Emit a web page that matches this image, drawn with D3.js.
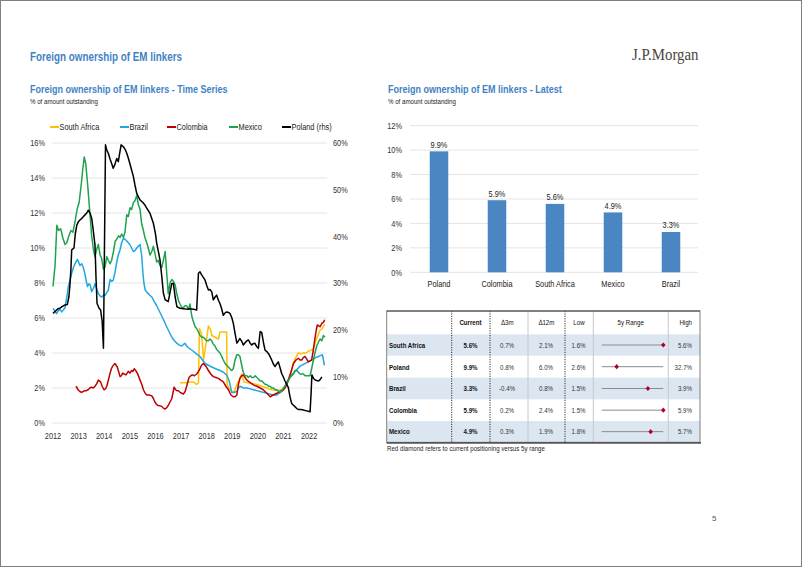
<!DOCTYPE html>
<html><head><meta charset="utf-8">
<script src="https://cdn.jsdelivr.net/npm/d3@7"></script>
<style>
html,body{margin:0;padding:0;background:#fff;}
svg{display:block;}
text{font-family:"Liberation Sans Narrow","Arial Narrow","Liberation Sans",Arial,sans-serif;}
</style></head><body>
<svg id="c" width="802" height="567"></svg>
<script>
// ---------------- DATA ----------------
const yearTicks = [2012,2013,2014,2015,2016,2017,2018,2019,2020,2021,2022];
const leftTicks = [0,2,4,6,8,10,12,14,16];
const rightTicks = [0,10,20,30,40,50,60];
const seriesNames = ["South Africa","Brazil","Colombia","Mexico","Poland (rhs)"];

const southAfrica = [[2016.96,2.3],[2017.1,2.3],[2017.22,2.3],[2017.35,2.35],[2017.48,2.35],[2017.61,2.2],[2017.68,2.3],[2017.72,5.4],[2017.8,5.1],[2017.88,3.6],[2017.97,4.5],[2018.07,5.55],[2018.16,5.3],[2018.2,5.0],[2018.33,4.9],[2018.46,4.8],[2018.52,5.2],[2018.65,5.2],[2018.78,5.2],[2018.8,2.2],[2018.9,1.9],[2018.98,1.8],[2019.08,1.8],[2019.18,2.2],[2019.28,2.5],[2019.37,2.8],[2019.45,2.35],[2019.6,2.3],[2019.76,2.25],[2019.96,2.2],[2020.15,2.1],[2020.35,2.0],[2020.55,1.9],[2020.74,1.85],[2020.9,1.9],[2021.0,2.0],[2021.1,2.2],[2021.19,2.45],[2021.3,2.9],[2021.39,3.45],[2021.5,3.8],[2021.58,4.0],[2021.68,3.95],[2021.78,4.0],[2021.88,4.0],[2021.97,4.1],[2022.07,4.15],[2022.17,4.25],[2022.3,4.85],[2022.43,5.3],[2022.52,5.4],[2022.6,5.65]];

const brazil = [[2012.0,6.55],[2012.07,6.4],[2012.14,6.25],[2012.2,6.4],[2012.27,6.5],[2012.34,6.35],[2012.4,6.45],[2012.47,6.6],[2012.54,7.2],[2012.6,7.8],[2012.67,8.2],[2012.73,8.55],[2012.8,8.9],[2012.86,9.1],[2012.95,9.35],[2013.0,9.2],[2013.05,9.0],[2013.12,9.1],[2013.18,8.9],[2013.25,8.5],[2013.3,8.1],[2013.35,7.8],[2013.4,7.95],[2013.45,7.9],[2013.51,7.5],[2013.58,7.7],[2013.64,7.95],[2013.7,7.7],[2013.77,7.4],[2013.84,7.25],[2013.9,7.2],[2013.97,7.3],[2014.03,7.3],[2014.1,7.45],[2014.16,7.6],[2014.23,8.2],[2014.29,8.1],[2014.35,8.15],[2014.42,8.6],[2014.49,9.2],[2014.55,9.6],[2014.62,9.9],[2014.68,10.3],[2014.75,10.55],[2014.81,10.5],[2014.88,10.4],[2014.94,10.3],[2015.0,10.2],[2015.07,10.0],[2015.14,9.8],[2015.2,9.85],[2015.27,10.0],[2015.33,10.1],[2015.4,10.2],[2015.46,9.6],[2015.51,8.6],[2015.55,8.0],[2015.6,7.6],[2015.68,7.45],[2015.78,7.3],[2015.86,7.2],[2015.95,6.95],[2016.05,6.7],[2016.15,6.4],[2016.25,6.1],[2016.35,5.8],[2016.44,5.5],[2016.54,5.2],[2016.64,4.9],[2016.74,4.7],[2016.84,4.55],[2016.94,4.45],[2017.03,4.4],[2017.1,4.5],[2017.16,4.55],[2017.22,4.4],[2017.29,4.3],[2017.38,4.2],[2017.48,4.1],[2017.6,3.95],[2017.74,3.8],[2017.84,3.6],[2017.94,3.4],[2018.07,3.3],[2018.2,3.2],[2018.35,3.1],[2018.52,3.0],[2018.65,2.9],[2018.78,2.75],[2018.88,2.4],[2018.98,1.75],[2019.08,1.75],[2019.18,1.8],[2019.24,2.0],[2019.3,2.1],[2019.45,2.0],[2019.57,2.0],[2019.7,1.95],[2019.83,1.9],[2019.96,1.85],[2020.09,1.8],[2020.22,1.75],[2020.35,1.7],[2020.48,1.65],[2020.6,1.6],[2020.74,1.6],[2020.84,1.7],[2020.93,1.8],[2021.03,2.0],[2021.13,2.35],[2021.26,2.65],[2021.39,2.85],[2021.52,3.05],[2021.65,3.25],[2021.78,3.35],[2021.91,3.45],[2022.04,3.55],[2022.17,3.65],[2022.27,3.75],[2022.36,3.8],[2022.45,3.85],[2022.52,3.9],[2022.6,3.3]];

const colombia = [[2012.9,2.1],[2012.98,1.9],[2013.05,1.8],[2013.11,1.75],[2013.18,1.8],[2013.24,1.85],[2013.3,1.85],[2013.37,1.9],[2013.44,2.0],[2013.5,2.05],[2013.57,2.0],[2013.64,2.1],[2013.71,2.25],[2013.77,2.45],[2013.86,2.35],[2013.92,2.1],[2013.99,1.9],[2014.05,1.95],[2014.1,2.1],[2014.17,2.5],[2014.23,2.85],[2014.28,3.1],[2014.33,3.25],[2014.42,3.4],[2014.51,3.2],[2014.57,2.9],[2014.62,2.65],[2014.67,2.7],[2014.72,2.85],[2014.78,2.8],[2014.85,2.75],[2014.94,2.95],[2015.0,2.85],[2015.07,3.0],[2015.12,2.95],[2015.17,3.1],[2015.23,3.0],[2015.29,2.85],[2015.35,2.65],[2015.4,2.45],[2015.47,2.2],[2015.53,1.9],[2015.6,1.7],[2015.66,1.6],[2015.76,1.6],[2015.86,1.55],[2015.92,1.4],[2015.98,1.2],[2016.05,1.05],[2016.11,1.0],[2016.18,0.98],[2016.25,0.95],[2016.31,0.85],[2016.38,0.8],[2016.44,0.88],[2016.5,1.0],[2016.57,1.2],[2016.64,1.4],[2016.73,2.05],[2016.79,1.9],[2016.84,1.85],[2016.9,1.85],[2016.96,1.75],[2017.03,1.7],[2017.09,1.65],[2017.16,1.8],[2017.22,2.1],[2017.31,2.6],[2017.38,2.7],[2017.44,2.75],[2017.52,2.7],[2017.61,2.8],[2017.68,2.95],[2017.74,3.1],[2017.8,3.3],[2017.87,3.4],[2017.97,3.25],[2018.07,3.0],[2018.16,2.8],[2018.26,2.65],[2018.36,2.6],[2018.46,2.55],[2018.55,2.45],[2018.65,2.35],[2018.75,2.1],[2018.85,1.9],[2018.95,1.6],[2019.04,1.5],[2019.11,1.5],[2019.18,1.6],[2019.24,2.2],[2019.3,2.55],[2019.37,2.7],[2019.43,2.75],[2019.5,2.6],[2019.57,2.45],[2019.66,2.35],[2019.76,2.25],[2019.86,2.15],[2019.96,2.1],[2020.09,2.0],[2020.21,1.9],[2020.35,1.7],[2020.48,1.5],[2020.6,1.6],[2020.74,1.7],[2020.87,1.8],[2021.0,1.9],[2021.1,2.1],[2021.19,2.45],[2021.29,2.9],[2021.39,3.4],[2021.49,3.6],[2021.58,3.7],[2021.65,3.6],[2021.71,3.6],[2021.78,3.75],[2021.84,3.8],[2021.91,3.65],[2021.97,3.5],[2022.04,3.55],[2022.1,3.6],[2022.17,4.2],[2022.23,4.85],[2022.28,5.3],[2022.32,5.6],[2022.38,5.55],[2022.43,5.5],[2022.5,5.7],[2022.56,5.75],[2022.61,5.9]];

const mexico = [[2012.0,7.8],[2012.08,9.0],[2012.15,11.3],[2012.22,11.0],[2012.3,11.1],[2012.38,10.6],[2012.47,10.2],[2012.54,10.3],[2012.62,10.7],[2012.7,11.0],[2012.78,10.9],[2012.86,11.5],[2012.94,12.2],[2013.02,12.6],[2013.1,13.6],[2013.17,14.6],[2013.22,15.2],[2013.28,14.8],[2013.36,13.5],[2013.44,12.0],[2013.51,10.7],[2013.58,9.9],[2013.64,9.5],[2013.7,9.9],[2013.77,10.2],[2013.84,9.6],[2013.9,9.4],[2013.97,8.8],[2014.03,8.9],[2014.1,9.5],[2014.16,9.3],[2014.23,9.1],[2014.29,9.3],[2014.36,9.8],[2014.43,10.4],[2014.49,10.5],[2014.56,10.7],[2014.62,10.6],[2014.68,10.8],[2014.75,10.6],[2014.81,10.9],[2014.88,11.9],[2014.94,11.8],[2015.01,12.3],[2015.07,12.2],[2015.14,12.6],[2015.2,12.7],[2015.27,13.0],[2015.33,12.5],[2015.4,12.2],[2015.46,11.4],[2015.53,11.0],[2015.59,10.6],[2015.66,10.3],[2015.72,10.0],[2015.79,9.6],[2015.86,9.8],[2015.92,10.1],[2015.98,9.7],[2016.05,9.2],[2016.11,9.3],[2016.18,9.0],[2016.25,8.9],[2016.31,9.3],[2016.38,9.8],[2016.44,8.6],[2016.5,7.4],[2016.57,8.0],[2016.64,8.2],[2016.7,8.1],[2016.77,7.9],[2016.83,7.4],[2016.9,7.0],[2016.96,6.8],[2017.03,6.6],[2017.09,6.6],[2017.16,6.7],[2017.22,6.7],[2017.29,6.5],[2017.35,6.8],[2017.42,6.1],[2017.48,5.8],[2017.55,5.5],[2017.61,5.4],[2017.68,5.2],[2017.74,5.0],[2017.81,4.9],[2017.87,4.9],[2017.94,4.8],[2018.0,4.7],[2018.07,4.7],[2018.13,4.8],[2018.2,4.7],[2018.26,4.5],[2018.33,4.4],[2018.39,4.2],[2018.46,4.1],[2018.52,4.0],[2018.59,3.8],[2018.65,3.6],[2018.72,3.4],[2018.78,3.3],[2018.85,3.2],[2018.91,3.1],[2018.98,3.0],[2019.04,3.1],[2019.11,3.6],[2019.18,3.9],[2019.24,3.9],[2019.3,3.8],[2019.37,3.3],[2019.43,2.9],[2019.5,2.7],[2019.57,2.7],[2019.63,2.6],[2019.7,2.7],[2019.76,2.6],[2019.83,2.6],[2019.9,2.7],[2019.96,2.6],[2020.03,2.5],[2020.09,2.4],[2020.16,2.4],[2020.22,2.3],[2020.29,2.2],[2020.35,2.2],[2020.42,2.1],[2020.48,2.1],[2020.55,2.0],[2020.61,2.0],[2020.68,1.9],[2020.74,1.9],[2020.81,1.8],[2020.87,1.8],[2020.93,1.8],[2021.0,2.0],[2021.06,2.1],[2021.13,2.3],[2021.19,2.4],[2021.26,2.6],[2021.32,2.7],[2021.39,2.8],[2021.45,3.0],[2021.52,3.0],[2021.58,2.9],[2021.65,2.8],[2021.71,2.8],[2021.78,2.8],[2021.84,2.7],[2021.91,2.7],[2021.97,2.7],[2022.04,2.7],[2022.1,3.1],[2022.17,3.6],[2022.23,4.0],[2022.3,4.4],[2022.36,4.6],[2022.43,4.8],[2022.5,4.7],[2022.56,5.0],[2022.62,4.9]];

const poland = [[2012.0,23.5],[2012.1,24.0],[2012.2,24.5],[2012.27,24.6],[2012.37,25.0],[2012.47,25.3],[2012.56,25.4],[2012.62,27.0],[2012.66,29.5],[2012.7,33.0],[2012.73,37.1],[2012.82,37.5],[2012.87,40.5],[2012.93,42.4],[2013.0,43.2],[2013.05,43.5],[2013.12,43.8],[2013.18,44.2],[2013.25,44.6],[2013.32,45.0],[2013.38,45.6],[2013.45,44.9],[2013.51,43.9],[2013.57,41.4],[2013.64,38.1],[2013.68,31.0],[2013.72,25.6],[2013.8,24.6],[2013.86,24.2],[2013.92,21.8],[2013.97,16.0],[2014.05,59.6],[2014.1,58.5],[2014.16,57.8],[2014.23,56.5],[2014.29,55.6],[2014.35,54.6],[2014.41,55.3],[2014.49,56.7],[2014.55,56.0],[2014.61,58.0],[2014.66,59.6],[2014.75,59.2],[2014.82,58.6],[2014.88,57.8],[2014.94,56.8],[2015.0,55.6],[2015.07,54.2],[2015.14,52.8],[2015.2,51.0],[2015.27,49.2],[2015.34,48.4],[2015.4,47.8],[2015.5,47.3],[2015.59,46.7],[2015.69,45.8],[2015.79,44.9],[2015.92,42.8],[2016.0,40.6],[2016.05,38.5],[2016.12,36.6],[2016.18,34.9],[2016.25,31.3],[2016.31,27.8],[2016.38,26.4],[2016.45,26.2],[2016.5,26.0],[2016.57,28.0],[2016.64,29.9],[2016.7,29.9],[2016.77,27.0],[2016.84,24.9],[2016.96,24.6],[2017.1,24.5],[2017.22,24.4],[2017.35,24.5],[2017.48,24.4],[2017.61,24.2],[2017.68,32.1],[2017.74,32.4],[2017.81,31.7],[2017.87,31.2],[2017.94,30.6],[2018.0,29.5],[2018.07,28.5],[2018.13,28.6],[2018.2,28.1],[2018.26,26.4],[2018.33,27.0],[2018.39,27.4],[2018.46,26.3],[2018.52,25.6],[2018.58,24.6],[2018.65,23.1],[2018.72,23.6],[2018.78,23.8],[2018.85,23.7],[2018.91,23.5],[2018.98,22.6],[2019.04,21.4],[2019.11,19.2],[2019.18,17.1],[2019.24,17.6],[2019.3,18.1],[2019.37,17.5],[2019.43,16.7],[2019.5,17.2],[2019.57,17.6],[2019.63,17.8],[2019.7,17.1],[2019.76,16.7],[2019.82,17.0],[2019.88,17.1],[2019.95,16.4],[2020.02,16.0],[2020.09,19.6],[2020.15,19.4],[2020.22,17.2],[2020.28,15.6],[2020.35,15.3],[2020.41,14.9],[2020.48,14.2],[2020.54,13.5],[2020.6,12.7],[2020.67,12.1],[2020.73,12.6],[2020.8,13.1],[2020.87,11.8],[2020.93,10.6],[2021.0,9.8],[2021.06,9.0],[2021.13,8.3],[2021.19,7.6],[2021.26,5.5],[2021.32,4.2],[2021.39,3.8],[2021.45,3.5],[2021.52,3.1],[2021.58,2.9],[2021.68,2.9],[2021.78,2.8],[2021.84,2.7],[2021.91,2.6],[2021.97,2.5],[2022.04,2.4],[2022.08,6.5],[2022.11,10.3],[2022.17,9.6],[2022.24,9.2],[2022.3,9.1],[2022.37,9.0],[2022.43,9.3],[2022.5,9.9]];

const barCategories = ["Poland","Colombia","South Africa","Mexico","Brazil"];
const barValues = [9.9,5.9,5.6,4.9,3.3];
const barTicks = [0,2,4,6,8,10,12];

const tableHeaders = ["","Current","\u22063m","\u220612m","Low","5y Range","High"];
const tableCountries = ["South Africa","Poland","Brazil","Colombia","Mexico"];
const tableCurrent = [5.6,9.9,3.3,5.9,4.9];
const tableD3m = [0.7,0.8,-0.4,0.2,0.3];
const tableD12m = [2.1,6.0,0.8,2.4,1.9];
const tableLow = [1.6,2.6,1.5,1.5,1.8];
const tableHigh = [5.6,32.7,3.9,5.9,5.7];

// ---------------- STYLE ----------------
const seriesColors = ["#FFC000","#1FA7E1","#C00000","#1DA34E","#000000"];
const titleBlue = "#3F82C4";
const barBlue = "#4A86C2";
const SX = 0.82;

const svg = d3.select("#c");
svg.append("rect").attr("x",0.5).attr("y",0.5).attr("width",801).attr("height",566)
  .attr("fill","#fff").attr("stroke","#7f7f7f").attr("stroke-width",1);

function T(g, x, y, s, o = {}) {
  const t = g.append("text")
    .attr("transform", `translate(${x},${y}) scale(${o.sx ?? SX},1)`)
    .attr("font-size", o.size || 9)
    .attr("fill", o.fill || "#333")
    .attr("text-anchor", o.anchor || "start")
    .attr("font-weight", o.weight || "normal")
    .text(s);
  if (o.family) t.style("font-family", o.family);
  return t;
}

// ---------------- HEADINGS ----------------
T(svg, 30, 61, "Foreign ownership of EM linkers", {size:12, weight:"bold", fill:titleBlue});
T(svg, 30, 93, "Foreign ownership of EM linkers - Time Series", {size:11, weight:"bold", fill:titleBlue});
T(svg, 30, 104, "% of amount outstanding", {size:7.5, fill:"#222"});
T(svg, 388, 93, "Foreign ownership of EM linkers - Latest", {size:11, weight:"bold", fill:titleBlue});
T(svg, 388, 104, "% of amount outstanding", {size:7.5, fill:"#222"});
T(svg, 632, 60, "J.P.Morgan", {size:16.5, sx:0.9, fill:"#4a4440", family:"'Liberation Serif','DejaVu Serif',serif"});
T(svg, 712, 521, "5", {size:8, fill:"#555", sx:1});

// ---------------- LEFT CHART ----------------
const x = d3.scaleLinear().domain([2012, 2022.7]).range([53, 327]);
const yL = d3.scaleLinear().domain([0, 16]).range([423, 143]);
const yR = d3.scaleLinear().domain([0, 60]).range([423, 143]);

const gl = svg.append("g");
gl.selectAll("line.grid").data(leftTicks).join("line")
  .attr("x1", 52).attr("x2", 327)
  .attr("y1", d => yL(d)).attr("y2", d => yL(d))
  .attr("stroke", "#e4e4e4").attr("stroke-width", 1);
leftTicks.forEach(t => T(gl, 45, yL(t) + 3.2, t + "%", {anchor:"end"}));
rightTicks.forEach(t => T(gl, 333, yR(t) + 3.2, t + "%"));
yearTicks.forEach(t => T(gl, x(t), 438.5, String(t), {anchor:"middle"}));

const lineL = d3.line().x(d => x(d[0])).y(d => yL(d[1]));
const lineR = d3.line().x(d => x(d[0])).y(d => yR(d[1]));
const allSeries = [southAfrica, brazil, colombia, mexico, poland];
allSeries.forEach((s, i) => {
  gl.append("path").datum(s)
    .attr("d", i === 4 ? lineR : lineL)
    .attr("fill", "none").attr("stroke", seriesColors[i])
    .attr("stroke-width", 1.5).attr("stroke-linejoin", "round");
});

// legend
const legX = [50, 120, 167, 229, 282];
seriesNames.forEach((n, i) => {
  gl.append("line").attr("x1", legX[i]).attr("x2", legX[i] + 9)
    .attr("y1", 127).attr("y2", 127).attr("stroke", seriesColors[i]).attr("stroke-width", 2);
  T(gl, legX[i] + 9.5, 130.2, n, {fill:"#222"});
});

// ---------------- BAR CHART ----------------
const gb = svg.append("g");
const xb = d3.scaleBand().domain(barCategories).range([410, 700]).paddingInner(0.68).paddingOuter(0.34);
const yb = d3.scaleLinear().domain([0, 12]).range([272.3, 125.7]);
gb.selectAll("line.grid").data(barTicks).join("line")
  .attr("x1", 410).attr("x2", 698)
  .attr("y1", d => yb(d)).attr("y2", d => yb(d))
  .attr("stroke", "#e4e4e4").attr("stroke-width", 1);
barTicks.forEach(t => T(gb, 402, yb(t) + 3.2, t + "%", {anchor:"end"}));
gb.selectAll("rect.bar").data(barValues).join("rect")
  .attr("x", (d, i) => xb(barCategories[i]))
  .attr("y", d => yb(d))
  .attr("width", xb.bandwidth())
  .attr("height", d => yb(0) - yb(d))
  .attr("fill", barBlue);
barValues.forEach((v, i) => {
  const cx = xb(barCategories[i]) + xb.bandwidth() / 2;
  T(gb, cx, yb(v) - 3.5, d3.format(".1f")(v) + "%", {anchor:"middle", fill:"#222"});
  T(gb, cx, 286.5, barCategories[i], {anchor:"middle", fill:"#222"});
});

// ---------------- TABLE ----------------
const gt = svg.append("g");
const colX = [386.7, 451.7, 490, 528, 565, 593.3, 668.3, 700];
const rowY = [311, 334.3, 355.7, 377.7, 399.3, 421, 442.3];
tableCountries.forEach((c, i) => {
  if (i % 2 === 0) {
    gt.append("rect").attr("x", colX[0]).attr("y", rowY[i + 1])
      .attr("width", colX[7] - colX[0]).attr("height", rowY[i + 2] - rowY[i + 1])
      .attr("fill", "#dce6f1");
  }
});
[1, 2, 3, 4, 5, 6].forEach(k => {
  const dark = (k === 1 || k === 2 || k === 4);
  gt.append("line").attr("x1", colX[k]).attr("x2", colX[k])
    .attr("y1", rowY[0]).attr("y2", rowY[6])
    .attr("stroke", dark ? "#333" : "#c8c8c8").attr("stroke-width", 1)
    .attr("stroke-dasharray", dark ? "1.2,1.2" : null);
});
gt.append("rect").attr("x", colX[0]).attr("y", rowY[0])
  .attr("width", colX[7] - colX[0]).attr("height", rowY[6] - rowY[0])
  .attr("fill", "none").attr("stroke", "#808080").attr("stroke-width", 1);
gt.append("line").attr("x1", colX[0]).attr("x2", colX[7]).attr("y1", rowY[0]).attr("y2", rowY[0])
  .attr("stroke", "#444").attr("stroke-width", 1.2);
gt.append("line").attr("x1", colX[0]).attr("x2", colX[7] + 1).attr("y1", rowY[6] + 0.5).attr("y2", rowY[6] + 0.5)
  .attr("stroke", "#555").attr("stroke-width", 1.8);

const f1 = v => d3.format(".1f")(v).replace("\u2212", "-") + "%";
const hdrX = [389, 470.5, 507.5, 546.5, 579, 630.7, 685.7];
const hy = (rowY[0] + rowY[1]) / 2 + 2.8;
tableHeaders.forEach((h, k) => {
  if (!h) return;
  T(gt, hdrX[k], hy, h, {size:7.5, anchor:"middle", weight: k === 1 ? "bold" : "normal", fill:"#111"});
});
const rangeX0 = 601.7, rangeX1 = 663.3;
tableCountries.forEach((c, i) => {
  const cy = (rowY[i + 1] + rowY[i + 2]) / 2;
  const by = cy + 2.8;
  T(gt, 389, by, c, {size:7.5, weight:"bold", fill:"#111"});
  T(gt, 470.5, by, f1(tableCurrent[i]), {size:7.5, weight:"bold", anchor:"middle", fill:"#111"});
  T(gt, 507, by, f1(tableD3m[i]), {size:7.5, anchor:"middle", fill:"#333"});
  T(gt, 546, by, f1(tableD12m[i]), {size:7.5, anchor:"middle", fill:"#333"});
  T(gt, 578.5, by, f1(tableLow[i]), {size:7.5, anchor:"middle", fill:"#333"});
  T(gt, 692, by, f1(tableHigh[i]), {size:7.5, anchor:"end", fill:"#333"});
  const rs = d3.scaleLinear().domain([tableLow[i], tableHigh[i]]).range([rangeX0, rangeX1]);
  gt.append("line").attr("x1", rangeX0).attr("x2", rangeX1).attr("y1", cy).attr("y2", cy)
    .attr("stroke", "#8c8c8c").attr("stroke-width", 1);
  const dx = rs(tableCurrent[i]);
  gt.append("path").attr("d", `M${dx},${cy - 2.6}L${dx + 2.3},${cy}L${dx},${cy + 2.6}L${dx - 2.3},${cy}Z`)
    .attr("fill", "#B0002A");
});
T(gt, 387, 451, "Red diamond refers to current positioning versus 5y range", {size:7.5, fill:"#222"});
</script>
</body></html>
